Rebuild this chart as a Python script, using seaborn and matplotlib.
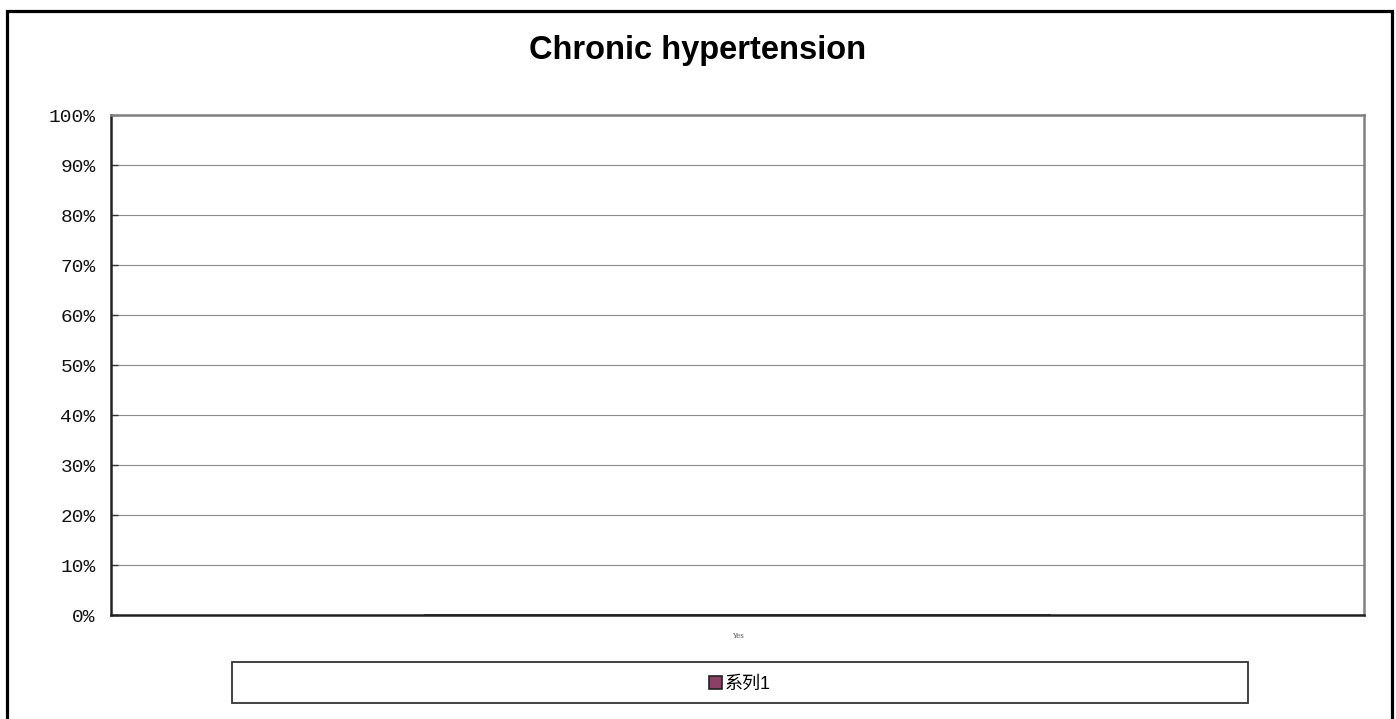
import pandas as pd
import matplotlib
matplotlib.use("Agg")
import matplotlib.pyplot as plt
import seaborn as sns
from matplotlib.patches import Rectangle
from matplotlib.ticker import FuncFormatter

# chart data
categories = ["Yes"]
values = [0.0]
series_name = "系列1"
title = "Chronic hypertension"
y_ticks = [0.0, 0.1, 0.2, 0.3, 0.4, 0.5, 0.6, 0.7, 0.8, 0.9, 1.0]

sns.set_theme(style="white")
plt.rcParams['font.family'] = ['Liberation Sans', 'Noto Sans CJK SC', 'DejaVu Sans']
plt.rcParams['text.color'] = "black"

df = pd.DataFrame({"category": categories, "value": values, "series": [series_name] * len(categories)})

W, H = 1396, 719
fig = plt.figure(figsize=(W / 100, H / 100), dpi=100)
ax = fig.add_axes([111 / W, 1 - 615 / H, (1364 - 111) / W, (615 - 115) / H])

sns.barplot(data=df, x="category", y="value", hue="series", palette=["#993366"],
            edgecolor="#222222", linewidth=1.2, ax=ax, width=0.5)

# axes look (old Excel style)
ax.set_ylim(0, 1)
ax.set_yticks(y_ticks)
ax.yaxis.set_major_formatter(FuncFormatter(lambda v, p: f"{round(v * 100)}%"))
ax.yaxis.grid(True, color="#8c8c8c", linewidth=0.8)
ax.set_axisbelow(True)
ax.set_xlabel("")
ax.set_ylabel("")
for lab in ax.get_yticklabels():
    lab.set_family("Liberation Mono")
    lab.set_fontsize(14)
ax.tick_params(axis="y", direction="in", length=5, width=1, color="#333333", pad=11,
               left=True, labelcolor="#111111")
ax.tick_params(axis="x", length=0, pad=12, labelsize=5, labelcolor="#555555")
for lab in ax.get_xticklabels():
    lab.set_family("DejaVu Serif")

for side in ["top", "right"]:
    ax.spines[side].set_color("#808080")
    ax.spines[side].set_linewidth(1.8)
for side in ["left", "bottom"]:
    ax.spines[side].set_color("#222222")
    ax.spines[side].set_linewidth(1.8)

# legend in its own box at the bottom
handles, labels = ax.get_legend_handles_labels()
ax.get_legend().remove()
fig.patches.append(Rectangle((232 / W, 1 - 703 / H), 1016 / W, 41 / H, transform=fig.transFigure,
                             facecolor="white", edgecolor="#333333", linewidth=1.3))
leg = fig.legend(handles, labels, loc="center", bbox_to_anchor=(740 / W, 1 - 684 / H), frameon=False,
                 fontsize=13, handlelength=0.7, handleheight=0.7, handletextpad=0.2)
for t in leg.get_texts():
    t.set_color("black")

fig.suptitle(title, x=698 / W, y=1 - 50 / H, va="center", fontsize=23.5, fontweight="bold", color="black")

# outer chart frame
fig.patches.append(Rectangle((7.5 / W, -0.01), (1391.5 - 7.5) / W, 1 - 10.5 / H + 0.01,
                             transform=fig.transFigure, fill=False, edgecolor="black", linewidth=2.3))

fig.savefig("out.png", dpi=100, facecolor="white")
